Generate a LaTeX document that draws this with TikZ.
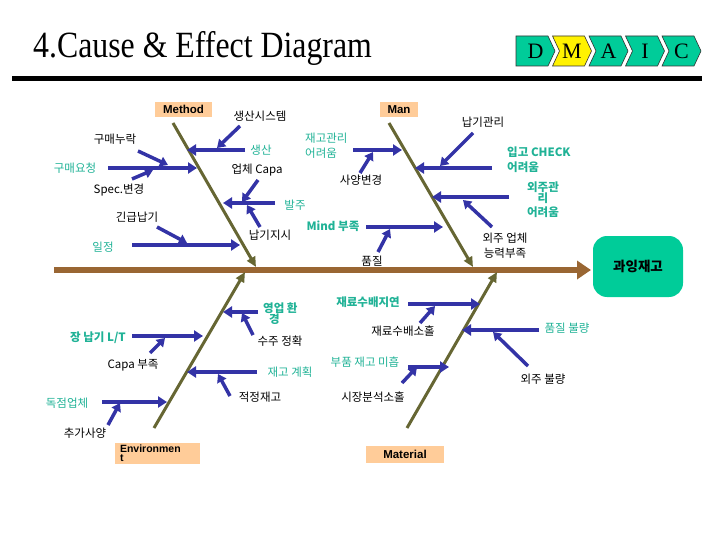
\documentclass[tikz,border=0pt]{standalone}
\usepackage{fontspec}
\usepackage{graphicx}
\setmainfont{Liberation Serif}
\newfontfamily\kr{Noto Sans CJK KR}
\newfontfamily\arialf{Liberation Sans}
\usetikzlibrary{arrows.meta}
\definecolor{dgreen}{HTML}{00CC99}
\definecolor{tealt}{RGB}{32,178,150}
\definecolor{blu}{HTML}{3333A6}
\definecolor{peach}{HTML}{FFCC99}
\definecolor{spinec}{HTML}{996633}
\definecolor{bonec}{HTML}{666633}
\tikzset{
  lbl/.style={font=\kr\fontsize{11.5}{12}\selectfont, inner sep=0pt, text=black},
  tl/.style={lbl, text=tealt},
  tlb/.style={tl, font=\kr\bfseries\fontsize{11.5}{12}\selectfont},
  cause/.style={draw=blu, line width=4pt, -{Triangle[length=9pt,width=11pt]}},
  subc/.style={draw=blu, line width=3.5pt, -{Triangle[length=8pt,width=10pt]}},
  bonest/.style={draw=bonec, line width=3pt, -{Triangle[length=10pt,width=9pt]}},
  spinest/.style={draw=spinec, line width=6pt, -{Triangle[length=14pt,width=18pt]}},
  catbox/.style={fill=peach, font=\arialf\bfseries\fontsize{11.5}{9}\selectfont, inner sep=0pt},
  chev/.style={fill=dgreen, draw=black!80, line width=0.6pt},
  chevl/.style={font=\fontsize{22}{22}\selectfont, inner sep=0pt}
}
\begin{document}
\begin{tikzpicture}[x=1pt,y=-1pt]
\useasboundingbox (0,0) rectangle (720,540);
% title
\node[anchor=base west, inner sep=0pt, font=\fontsize{37}{37}\selectfont] (title) at (33,58) {\scalebox{0.86}[1]{4.Cause \& Effect Diagram}};
\fill (12,76) rectangle (702,81);
% DMAIC
\foreach \i/\l/\c in {0/D/dgreen,1/M/yellow,2/A/dgreen,3/I/dgreen,4/C/dgreen}{
  \pgfmathsetmacro{\xo}{516+36.5*\i}
  \ifnum\i=0
    \draw[chev, fill=\c] (\xo,36) -- (\xo+32,36) -- (\xo+39,51) -- (\xo+32,66) -- (\xo,66) -- cycle;
  \else
    \draw[chev, fill=\c] (\xo,36) -- (\xo+32,36) -- (\xo+39,51) -- (\xo+32,66) -- (\xo,66) -- (\xo+7,51) -- cycle;
  \fi
  \node[chevl] (ch\l) at (\xo+19.5,51) {\l};
}
% effect
\node[fill=dgreen, rounded corners=14pt, minimum width=90pt, minimum height=61pt, inner sep=0pt,
  font=\kr\bfseries\fontsize{13.5}{13.5}\selectfont] (effect) at (638,266.5) {과잉재고};
% categories
\node[catbox, minimum width=57pt, minimum height=15pt] (method) at (183.5,109.5) {Method};
\node[catbox, minimum width=38pt, minimum height=15pt] (man) at (399,109.5) {Man};
\node[catbox, minimum width=85pt, minimum height=21pt, align=left, text width=75pt] (env) at (157.5,453) {\fontsize{10.5}{11.5}\selectfont Environmen\\t};
\node[catbox, minimum width=78pt, minimum height=17pt] (mat) at (405,454.5) {Material};
% spine
\coordinate (sp0) at (54,270);
\coordinate (sp1) at (591,270);
\draw[spinest] (sp0) -- (sp1);
% bones
\coordinate (mA) at (173,123); \coordinate (mB) at (256,267);
\coordinate (nA) at (389,123); \coordinate (nB) at (473,267);
\coordinate (eA) at (154,428); \coordinate (eB) at (245,272);
\coordinate (tA) at (407,428); \coordinate (tB) at (497,272);
\draw[bonest] (mA) -- (mB);
\draw[bonest] (nA) -- (nB);
\draw[bonest] (eA) -- (eB);
\draw[bonest] (tA) -- (tB);

% ---------- Method ----------
\node[tl] (l1) at (261,150) {생산};
\coordinate (b1s) at (245,150); \coordinate (b1t) at (187,150);
\draw[cause] (b1s) -- (b1t);
\node[lbl] (l1a) at (260,116) {생산시스템};
\coordinate (s1s) at (240,126); \coordinate (s1t) at (217,148);
\draw[subc] (s1s) -- (s1t);

\node[tl] (l2) at (75,168) {구매요청};
\coordinate (b2s) at (108,168); \coordinate (b2t) at (197,168);
\draw[cause] (b2s) -- (b2t);
\node[lbl] (l2a) at (115,139) {구매누락};
\coordinate (s2s) at (138,151); \coordinate (s2t) at (168,165);
\draw[subc] (s2s) -- (s2t);
\node[lbl] (l2b) at (119,190) {Spec.변경};
\coordinate (s2u) at (132,179); \coordinate (s2v) at (153,170);
\draw[subc] (s2u) -- (s2v);

\node[tl] (l3) at (295,205) {발주};
\coordinate (b3s) at (275,203); \coordinate (b3t) at (223,203);
\draw[cause] (b3s) -- (b3t);
\node[lbl] (l3a) at (257,170) {업체 Capa};
\coordinate (s3s) at (258,180); \coordinate (s3t) at (242,202);
\draw[subc] (s3s) -- (s3t);
\node[lbl] (l3b) at (270,235) {납기지시};
\coordinate (s3u) at (260,227); \coordinate (s3v) at (247,205);
\draw[subc] (s3u) -- (s3v);

\node[tl] (l4) at (103,247) {일정};
\coordinate (b4s) at (132,245); \coordinate (b4t) at (240,245);
\draw[cause] (b4s) -- (b4t);
\node[lbl] (l4a) at (137,217) {긴급납기};
\coordinate (s4s) at (157,227); \coordinate (s4t) at (187,243);
\draw[subc] (s4s) -- (s4t);

% ---------- Man ----------
\node[tl, anchor=west, align=left] (l5) at (305,146) {재고관리\\[3pt]어려움};
\coordinate (b5s) at (353,150); \coordinate (b5t) at (402,150);
\draw[cause] (b5s) -- (b5t);
\node[lbl] (l5a) at (361,180) {사양변경};
\coordinate (s5s) at (360,173); \coordinate (s5t) at (373,152);
\draw[subc] (s5s) -- (s5t);

\node[tlb, anchor=west, align=left] (l6) at (507,160) {입고 CHECK\\[3pt]어려움};
\coordinate (b6s) at (492,168); \coordinate (b6t) at (415,168);
\draw[cause] (b6s) -- (b6t);
\node[lbl] (l6a) at (483,122) {납기관리};
\coordinate (s6s) at (473,133); \coordinate (s6t) at (440,166);
\draw[subc] (s6s) -- (s6t);

\node[tlb, align=center] (l7) at (543,200) {외주관\\[-1pt]리\\[2pt]어려움};
\coordinate (b7s) at (509,197); \coordinate (b7t) at (432,197);
\draw[cause] (b7s) -- (b7t);
\node[lbl, align=center] (l7a) at (505,246) {외주 업체\\[3pt]능력부족};
\coordinate (s7s) at (492,227); \coordinate (s7t) at (463,200);
\draw[subc] (s7s) -- (s7t);

\node[tlb] (l8) at (333,226) {Mind 부족};
\coordinate (b8s) at (366,227); \coordinate (b8t) at (443,227);
\draw[cause] (b8s) -- (b8t);
\node[lbl] (l8a) at (372,261) {품질};
\coordinate (s8s) at (378,252); \coordinate (s8t) at (390,229);
\draw[subc] (s8s) -- (s8t);

% ---------- Environment ----------
\node[tlb, anchor=west, align=left] (l9) at (263,314) {영업 환\\[-1pt]\hspace{6pt}경};
\coordinate (b9s) at (258,312); \coordinate (b9t) at (223,312);
\draw[cause] (b9s) -- (b9t);
\node[lbl] (l9a) at (280,341) {수주 정확};
\coordinate (s9s) at (253,335); \coordinate (s9t) at (242,313);
\draw[subc] (s9s) -- (s9t);

\node[tlb] (l10) at (98,338) {장 납기 L/T};
\coordinate (b10s) at (132,336); \coordinate (b10t) at (203,336);
\draw[cause] (b10s) -- (b10t);
\node[lbl] (l10a) at (133,365) {Capa 부족};
\coordinate (s10s) at (150,353); \coordinate (s10t) at (165,338);
\draw[subc] (s10s) -- (s10t);

\node[tl] (l11) at (290,372) {재고 계획};
\coordinate (b11s) at (257,372); \coordinate (b11t) at (187,372);
\draw[cause] (b11s) -- (b11t);
\node[lbl] (l11a) at (260,397) {적정재고};
\coordinate (s11s) at (230,396); \coordinate (s11t) at (218,374);
\draw[subc] (s11s) -- (s11t);

\node[tl] (l12) at (67,403) {독점업체};
\coordinate (b12s) at (102,402); \coordinate (b12t) at (167,402);
\draw[cause] (b12s) -- (b12t);
\node[lbl] (l12a) at (85,433) {추가사양};
\coordinate (s12s) at (108,425); \coordinate (s12t) at (120,403);
\draw[subc] (s12s) -- (s12t);

% ---------- Material ----------
\node[tlb] (l13) at (368,302) {재료수배지연};
\coordinate (b13s) at (408,304); \coordinate (b13t) at (480,304);
\draw[cause] (b13s) -- (b13t);
\node[lbl] (l13a) at (403,331) {재료수배소홀};
\coordinate (s13s) at (420,323); \coordinate (s13t) at (435,306);
\draw[subc] (s13s) -- (s13t);

\node[tl] (l14) at (567,328) {품질 불량};
\coordinate (b14s) at (539,330); \coordinate (b14t) at (462,330);
\draw[cause] (b14s) -- (b14t);
\node[lbl] (l14a) at (543,379) {외주 불량};
\coordinate (s14s) at (528,366); \coordinate (s14t) at (493,332);
\draw[subc] (s14s) -- (s14t);

\node[tl] (l15) at (365,362) {부품 재고 미흡};
\coordinate (b15s) at (408,367); \coordinate (b15t) at (449,367);
\draw[cause] (b15s) -- (b15t);
\node[lbl] (l15a) at (373,397) {시장분석소홀};
\coordinate (s15s) at (402,383); \coordinate (s15t) at (417,367);
\draw[subc] (s15s) -- (s15t);
\end{tikzpicture}
\end{document}
